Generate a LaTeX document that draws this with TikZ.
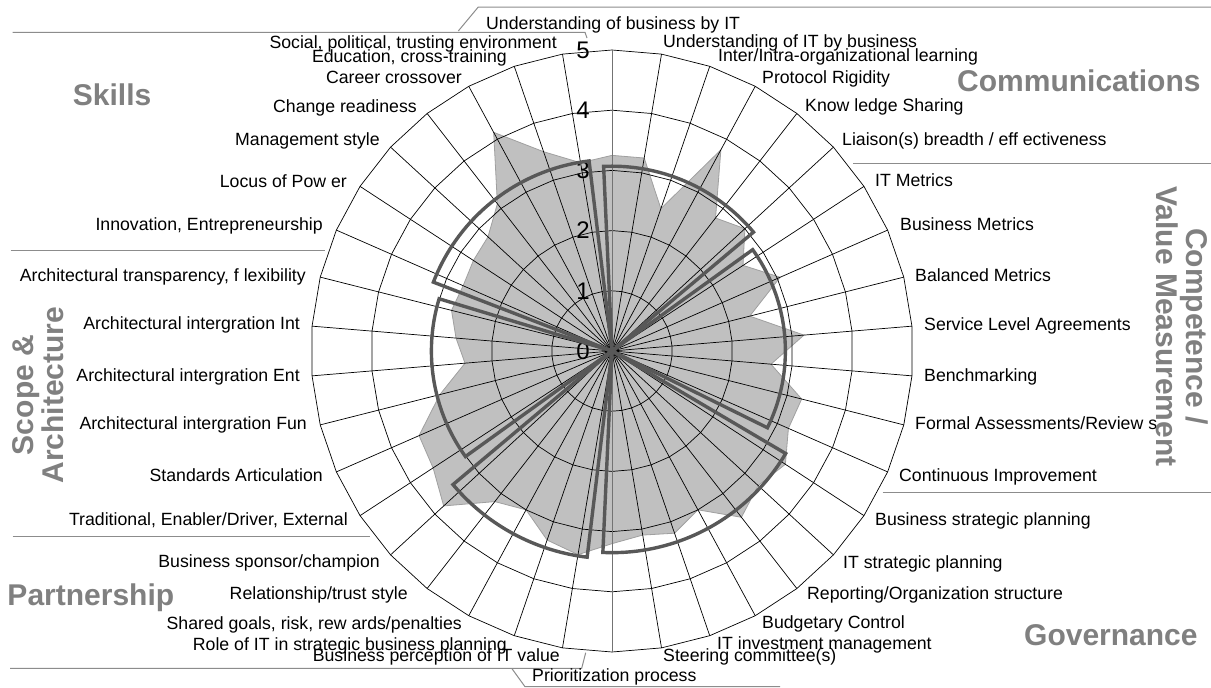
\documentclass[tikz,border=0pt]{standalone}
\usepackage{fontspec}
\setmainfont{Liberation Sans}
\definecolor{areafill}{HTML}{C0C0C0}
\definecolor{areaedge}{HTML}{A0A0A0}
\definecolor{avgline}{HTML}{585858}
\definecolor{domaintext}{HTML}{808080}
\definecolor{rulegray}{HTML}{8C8C8C}
\begin{document}
\begin{tikzpicture}[x=1pt,y=-1pt,
  lbl/.style={inner sep=0pt, font=\fontsize{17.7}{20}\selectfont},
  dom/.style={inner sep=0pt, text=domaintext, font=\bfseries\fontsize{30}{30}\selectfont},
  ticklbl/.style={inner sep=0pt, font=\fontsize{24}{26}\selectfont},
  gridline/.style={black, line width=0.7pt},
  axisline/.style={black!55, line width=0.9pt},
  rule/.style={rulegray, line width=1pt},
  avg/.style={avgline, line width=3.4pt, line join=miter},
  area/.style={fill=areafill, draw=areaedge, line width=0.8pt, line join=miter}]
\useasboundingbox (0,0) rectangle (1211,688);
\fill[white] (0,0) rectangle (1211,688);
\def\R{60.2}
\def\stp{9.4736842}
\begin{scope}[shift={(612,351)}]
  % scores per criterion (filled area)
  \path[area] (-90:{3.25*\R})
    \foreach \v [count=\i] in {3.25,2.5,3.8,2.8,3.0,2.6,3.05,2.36,3.2,2.65,3.25,3.2,
      3.44,3.3,3.5,3.0,3.2,3.1,3.2,3.43,3.32,3.0,3.17,3.8,3.55,3.5,2.95,2.45,2.6,2.75,
      2.7,2.75,2.8,3.1,4.13,3.5,3.17} { -- ({\i*\stp-90}:{\v*\R}) } -- cycle;
  % polygonal rings
  \foreach \k in {1,...,5}
    \draw[gridline] (-90:{\k*\R}) \foreach \i in {1,...,37} { -- ({\i*\stp-90}:{\k*\R}) } -- cycle;
  % spokes
  \foreach \i in {1,...,18,20,21,...,37}
    \draw[gridline] (0,0) -- ({\i*\stp-90}:{5*\R});
  \draw[axisline] (0,{-5*\R}) -- (0,{5*\R});
  % value axis numbers
  \foreach \k in {0,...,5}
    \node[ticklbl] (tick\k) at (-29,{-\k*\R}) {\k};
  % domain averages
  \foreach \s/\e/\v in {0/5/3.07,6/12/2.88,13/19/3.35,20/24/3.45,25/30/3.0,31/37/3.18} {
    \pgfmathsetmacro\angA{\s*\stp-90-2.6}
    \pgfmathsetmacro\angB{\e*\stp-90+2.6}
    \draw[avg] (0,0) -- (\angA:{\v*\R}) -- plot[domain=\angA:\angB, samples=40] (\x:{\v*\R}) -- cycle;
  }
\end{scope}
% domain separators
\draw[rule] (12.7,32.3) -- (585,32.3) -- (587,38);
\draw[rule] (458.3,31) -- (478.3,7) -- (1211,7);
\draw[rule] (853.3,163.3) -- (1211,163.3);
\draw[rule] (882.7,492.7) -- (1211,492.7);
\draw[rule] (511.7,668.3) -- (525,686.7) -- (780,686.7);
\draw[rule] (10,668.3) -- (581.7,668.3) -- (585.7,652.7);
\draw[rule] (12.7,536.7) -- (370,536.7);
\draw[rule] (10.7,250.7) -- (325,250.7);
% criterion labels, right half
\node[lbl, anchor=base west] (c0) at (486,29) {Understanding of business by IT};
\node[lbl, anchor=base west] (c1) at (663,47.5) {Understanding of IT by business};
\node[lbl, anchor=base west] (c2) at (718,61.5) {Inter/Intra-organizational learning};
\node[lbl, anchor=base west] (c3) at (762,83) {Protocol Rigidity};
\node[lbl, anchor=base west] (c4) at (805,111.5) {Know ledge Sharing};
\node[lbl, anchor=base west] (c5) at (842,145) {Liaison(s) breadth / eff ectiveness};
\node[lbl, anchor=base west] (c6) at (875,186.5) {IT Metrics};
\node[lbl, anchor=base west] (c7) at (900,230) {Business Metrics};
\node[lbl, anchor=base west] (c8) at (915,281.5) {Balanced Metrics};
\node[lbl, anchor=base west] (c9) at (924,330) {Service Level Agreements};
\node[lbl, anchor=base west] (c10) at (924,381.5) {Benchmarking};
\node[lbl, anchor=base west] (c11) at (915,429.5) {Formal Assessments/Review s};
\node[lbl, anchor=base west] (c12) at (899,481.5) {Continuous Improvement};
\node[lbl, anchor=base west] (c13) at (875,525) {Business strategic planning};
\node[lbl, anchor=base west] (c14) at (843,568) {IT strategic planning};
\node[lbl, anchor=base west] (c15) at (807,599.5) {Reporting/Organization structure};
\node[lbl, anchor=base west] (c16) at (762,628) {Budgetary Control};
\node[lbl, anchor=base west] (c17) at (717,649.5) {IT investment management};
\node[lbl, anchor=base west] (c18) at (663,661.5) {Steering committee(s)};
\node[lbl, anchor=base west] (c19) at (532,681) {Prioritization process};
% criterion labels, left half
\node[lbl, anchor=base east] (c20) at (560,661.5) {Business perception of IT value};
\node[lbl, anchor=base east] (c21) at (507,650) {Role of IT in strategic business planning};
\node[lbl, anchor=base east] (c22) at (462,629) {Shared goals, risk, rew ards/penalties};
\node[lbl, anchor=base east] (c23) at (408,599.5) {Relationship/trust style};
\node[lbl, anchor=base east] (c24) at (380,567.5) {Business sponsor/champion};
\node[lbl, anchor=base east] (c25) at (348,525) {Traditional, Enabler/Driver, External};
\node[lbl, anchor=base east] (c26) at (323,481.5) {Standards Articulation};
\node[lbl, anchor=base east] (c27) at (307,429.5) {Architectural intergration Fun};
\node[lbl, anchor=base east] (c28) at (300,381.5) {Architectural intergration Ent};
\node[lbl, anchor=base east] (c29) at (300,329.5) {Architectural intergration Int};
\node[lbl, anchor=base east] (c30) at (306,281.5) {Architectural transparency, f lexibility};
\node[lbl, anchor=base east] (c31) at (323,230.5) {Innovation, Entrepreneurship};
\node[lbl, anchor=base east] (c32) at (347,187) {Locus of Pow er};
\node[lbl, anchor=base east] (c33) at (380,145.5) {Management style};
\node[lbl, anchor=base east] (c34) at (417,112.5) {Change readiness};
\node[lbl, anchor=base east] (c35) at (462,83) {Career crossover};
\node[lbl, anchor=base east] (c36) at (507,62) {Education, cross-training};
\node[lbl, anchor=base east] (c37) at (557,48.5) {Social, political, trusting environment};
% domain titles
\node[dom, anchor=base west] (dSkills) at (72.7,105) {Skills};
\node[dom, anchor=base west] (dComm) at (957,91.7) {Communications};
\node[dom, anchor=base west] (dGov) at (1024,645.7) {Governance};
\node[dom, anchor=base west] (dPart) at (7.3,605) {Partnership};
\node[dom, rotate=-90, align=center] (dComp) at (1182.5,326.5) {Competence /\\Value Measurement};
\node[dom, rotate=90, align=center] (dScope) at (38,395) {Scope \&\\Architecture};
\end{tikzpicture}
\end{document}
